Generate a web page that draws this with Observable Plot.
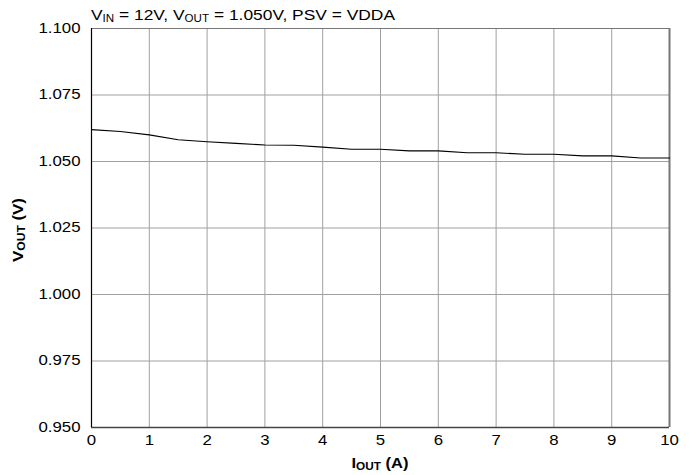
<!DOCTYPE html>
<html>
<head>
<meta charset="utf-8">
<script src="https://cdn.jsdelivr.net/npm/d3@7"></script>
<script src="https://cdn.jsdelivr.net/npm/@observablehq/plot@0.6"></script>
<style>
  html, body { margin: 0; padding: 0; background: #fff; }
  #chart { width: 691px; height: 475px; }
</style>
</head>
<body>
<div id="chart"></div>
<script>
const iout = [0, 0.5, 1, 1.5, 2, 2.5, 3, 3.5, 4, 4.5, 5, 5.5, 6, 6.5, 7, 7.5, 8, 8.5, 9, 9.5, 10];
const vout = [1.0620, 1.0613, 1.0600, 1.0582, 1.0574, 1.0568, 1.0562, 1.0561, 1.0554, 1.0546, 1.0546,
              1.0540, 1.0540, 1.0533, 1.0533, 1.0527, 1.0527, 1.0521, 1.0521, 1.0513, 1.0513];
const xTicks = [0, 1, 2, 3, 4, 5, 6, 7, 8, 9, 10];
const yTicks = [0.950, 0.975, 1.000, 1.025, 1.050, 1.075, 1.100];

const data = iout.map((x, i) => ({x, y: vout[i]}));
const font = "'Liberation Sans', Arial, sans-serif";

const plot = Plot.plot({
  width: 691,
  height: 475,
  marginLeft: 91,
  marginRight: 22,
  marginTop: 28,
  marginBottom: 48,
  style: {fontFamily: font, fontSize: "14px", color: "#000", background: "#fff"},
  x: {domain: [0, 10], label: null},
  y: {domain: [0.95, 1.10], label: null},
  marks: [
    Plot.gridX(xTicks, {stroke: "#a0a0a0", strokeOpacity: 1, strokeWidth: 1}),
    Plot.gridY(yTicks, {stroke: "#a0a0a0", strokeOpacity: 1, strokeWidth: 1}),
    Plot.ruleY([1.10], {stroke: "#777", strokeWidth: 1.2}),
    Plot.ruleX([10], {stroke: "#777", strokeWidth: 2}),
    Plot.ruleY([0.95], {stroke: "#444", strokeWidth: 1.4}),
    Plot.ruleX([0], {stroke: "#000", strokeWidth: 1.2}),
    Plot.axisX(xTicks, {tickSize: 0, tickPadding: 8, fontSize: 14, tickFormat: d => String(d), label: null}),
    Plot.axisY(yTicks, {tickSize: 0, tickPadding: 11, fontSize: 14, tickFormat: d3.format(".3f"), label: null}),
    Plot.line(data, {x: "x", y: "y", stroke: "#000", strokeWidth: 1.1})
  ]
});

document.getElementById("chart").appendChild(plot);

const svg = d3.select(plot);
const STRETCH = 1.2;
function stretch(el, target) {
  const len = el.getComputedTextLength();
  if (len > 0) {
    el.setAttribute("textLength", target != null ? target : len * STRETCH);
    el.setAttribute("lengthAdjust", "spacingAndGlyphs");
  }
}

// stretch tick labels horizontally like the reference
svg.selectAll("[aria-label='x-axis tick label'] text, [aria-label='y-axis tick label'] text")
  .each(function() { stretch(this); });

function addRich(parts, attrs) {
  const t = svg.append("text")
    .attr("font-family", font)
    .attr("fill", "#000")
    .attr("text-anchor", "start");
  for (const [k, v] of Object.entries(attrs)) t.attr(k, v);
  for (const p of parts) {
    const s = t.append("tspan").text(p.t);
    if (p.sub) s.attr("font-size", "10px").attr("dy", "2");
    else if (p.after) s.attr("dy", "-2");
  }
  return t;
}

// Title
const title = addRich([
  {t: "V"}, {t: "IN", sub: true}, {t: " = 12V, V", after: true}, {t: "OUT", sub: true},
  {t: " = 1.050V, PSV = VDDA", after: true}
], {x: 91, y: 20, "font-size": "15px"});
stretch(title.node(), 304);

// X label
const xl = addRich([{t: "I"}, {t: "OUT", sub: true}, {t: " (A)", after: true}],
  {x: 380, y: 468, "font-size": "14px", "font-weight": "bold", "text-anchor": "middle"});
stretch(xl.node(), 57);

// Y label
const yl = addRich([{t: "V"}, {t: "OUT", sub: true}, {t: " (V)", after: true}],
  {transform: "translate(23,230) rotate(-90)", "font-size": "14px", "font-weight": "bold", "text-anchor": "middle"});
stretch(yl.node(), 64);
</script>
</body>
</html>
